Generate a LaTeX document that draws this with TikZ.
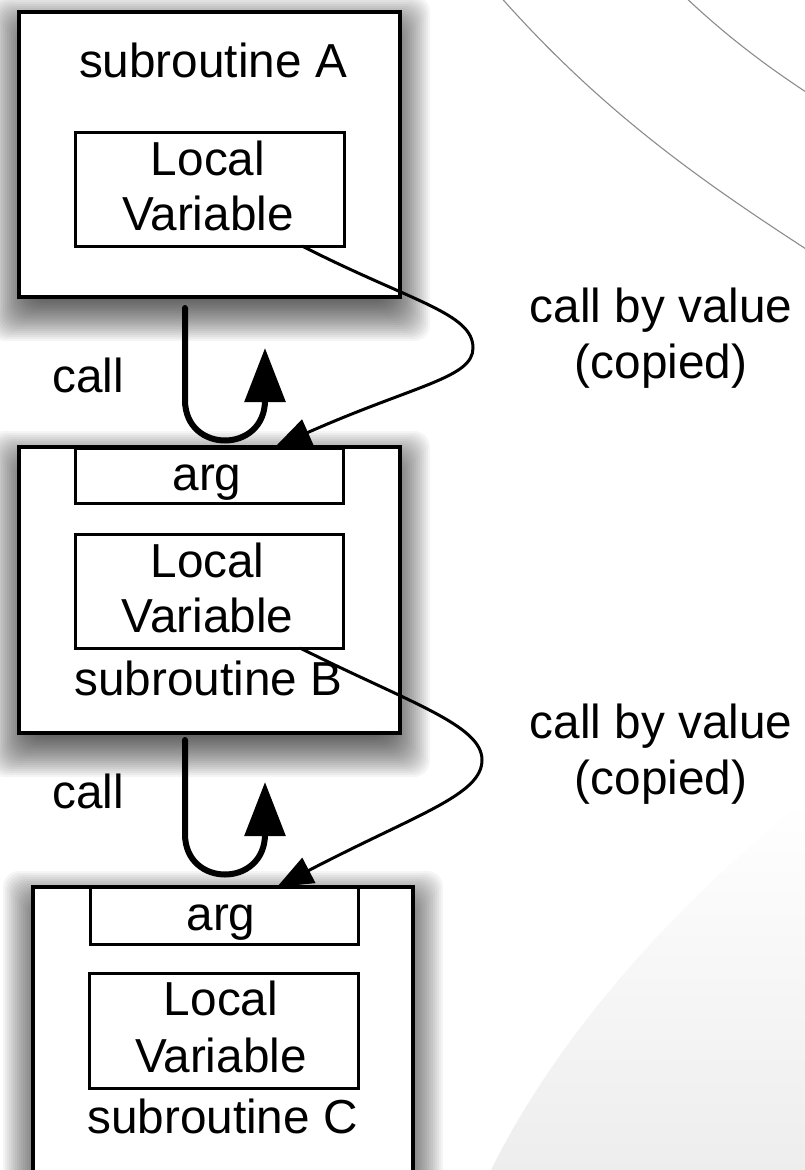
\documentclass[tikz,border=0pt]{standalone}
\usepackage{fontspec}
\setmainfont{Liberation Sans}
\usetikzlibrary{arrows.meta}
\pgfdeclarelayer{back}
\pgfdeclarelayer{shadow}
\pgfsetlayers{back,shadow,main}

% soft drop shadow behind a named node
\newcommand\dropshadow[1]{%
  \foreach \e in {-10,-8,...,30}{%
    \fill[black, opacity=0.04, rounded corners=16pt]
      ([xshift={0-(\e)}, yshift={\e-14}]#1.north west) rectangle
      ([xshift={\e}, yshift={0-(\e)-14}]#1.south east);
  }}

\begin{document}
\begin{tikzpicture}[x=1pt, y=-1pt,
  every node/.style={font=\fontsize{47.7}{55}\selectfont, inner sep=0pt, outer sep=0pt},
  frame/.style={draw=black, line width=4pt, fill=white, rectangle},
  slot/.style={draw=black, line width=3pt, fill=white, rectangle},
  lbl/.style={anchor=base},
  callarrow/.style={line width=6pt, line cap=round, -{Triangle[length=54pt,width=40pt]}},
  valarrow/.style={line width=3pt, -{Triangle[length=36pt,width=28pt]}},
  arcline/.style={draw=black!45, line width=1.1pt},
]
\useasboundingbox (0,0) rectangle (804,1170);

% background decoration
\begin{pgfonlayer}{back}
  \fill[white] (0,0) rectangle (804,1170);
  \shade[top color=white, bottom color=black!7]
    (806,800) .. controls (680,900) and (560,1030) .. (490,1172) -- (806,1172) -- cycle;
  \draw[arcline] (498,-6) .. controls (600,110) and (700,180) .. (806,249);
  \draw[arcline] (682,-6) .. controls (725,35) and (765,65) .. (806,92);
\end{pgfonlayer}

% subroutine frames
\node[frame, minimum width=381pt, minimum height=285pt] (A) at (209.5,154.5) {};
\node[frame, minimum width=381pt, minimum height=286pt] (B) at (209.5,590) {};
\node[frame, minimum width=380pt, minimum height=330pt] (C) at (223,1052) {};

\begin{pgfonlayer}{shadow}
  \dropshadow{A}
  \dropshadow{B}
  \dropshadow{C}
\end{pgfonlayer}

% inner boxes
\node[slot, minimum width=269pt, minimum height=114pt] (lvA) at (209.5,189) {};
\node[slot, minimum width=268pt, minimum height=55pt] (argB) at (209,475.5) {};
\node[slot, minimum width=268pt, minimum height=114pt] (lvB) at (209,591) {};
\node[slot, minimum width=268pt, minimum height=57pt] (argC) at (224,915.5) {};
\node[slot, minimum width=269pt, minimum height=115pt] (lvC) at (223.5,1030.5) {};

% texts
\node[lbl] (tA) at (213,77) {subroutine A};
\node[lbl] (lvA1) at (208,175) {Local};
\node[lbl] (lvA2) at (208,230) {Variable};

\node[lbl] (argBt) at (207,490) {arg};
\node[lbl] (lvB1) at (207.5,577) {Local};
\node[lbl] (lvB2) at (207.5,632) {Variable};
\node[lbl] (tB) at (208.5,695) {subroutine B};

\node[lbl] (argCt) at (221,930) {arg};
\node[lbl] (lvC1) at (221,1015) {Local};
\node[lbl] (lvC2) at (221,1072) {Variable};
\node[lbl] (tC) at (222.5,1133) {subroutine C};

\node[lbl] (callA) at (88,392) {call};
\node[lbl] (callB) at (88,808) {call};

\node[lbl] (cbvA1) at (661,322) {call by value};
\node[lbl] (cbvA2) at (661,378) {(copied)};
\node[lbl] (cbvB1) at (661,738) {call by value};
\node[lbl] (cbvB2) at (661,794) {(copied)};

% call arrows
\coordinate (callAin) at (185,308);
\coordinate (callAout) at (265,348);
\coordinate (callBin) at (185,740);
\coordinate (callBout) at (265,782);
\draw[callarrow] (callAin) -- (185,400) .. controls (185,454) and (265,454) .. (265,400) -- (callAout);
\draw[callarrow] (callBin) -- (185,834) .. controls (185,888) and (265,888) .. (265,834) -- (callBout);

% call-by-value arrows
\draw[valarrow] ([xshift=92.5pt]lvA.south) .. controls (412,302) and (473,313) .. (473,348)
  .. controls (473,378) and (415,385) .. ([xshift=65.5pt]B.north);
\draw[valarrow] ([xshift=91pt]lvB.south) .. controls (410,703) and (482,725) .. (482,760)
  .. controls (482,795) and (417,814) .. ([xshift=54pt]C.north);
\end{tikzpicture}
\end{document}
